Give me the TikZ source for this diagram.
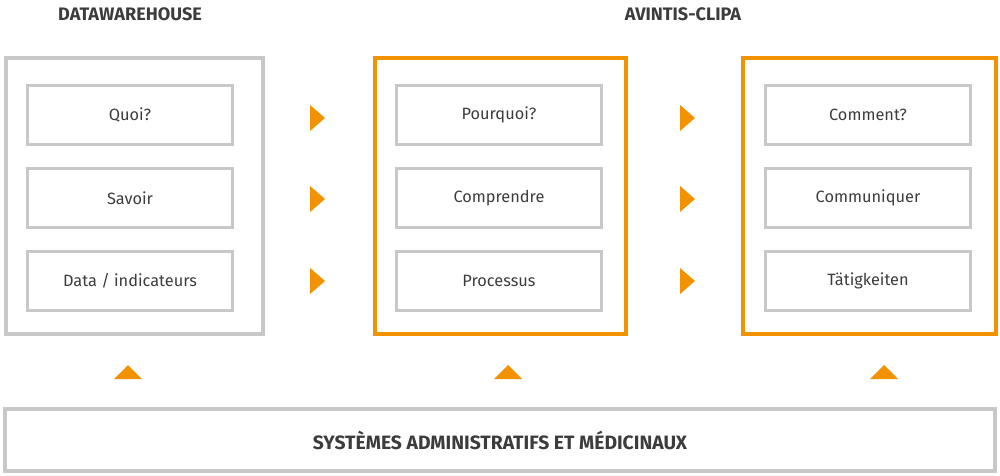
\documentclass[tikz,border=0pt]{standalone}
\usepackage{fontspec}
\setmainfont{Fira Sans}
\begin{document}
\begin{tikzpicture}[x=0.02cm,y=-0.02cm,
  gbox/.style={draw=boxgray,line width=2.3pt},
  obox/.style={draw=orng,line width=2.3pt},
  ibox/.style={draw=boxgray,line width=2pt,minimum width=4.1cm,minimum height=1.18cm,font=\fontsize{9.3}{11}\selectfont,text=txt},
  ttl/.style={font=\bfseries\fontsize{10.3}{12}\selectfont,text=txt}]
\definecolor{boxgray}{HTML}{C8C8C8}
\definecolor{orng}{HTML}{F39200}
\definecolor{txt}{HTML}{3C3C3C}
\useasboundingbox (0,0) rectangle (1000,476);
\node[ttl] (t1) at (130,14) {DATAWAREHOUSE};
\node[ttl] (t2) at (683,14) {AVINTIS-CLIPA};
\draw[gbox] (6,58) rectangle (263,334);
\draw[obox] (375,58) rectangle (626,334);
\draw[obox] (743,58) rectangle (996,334);
\foreach \cx/\a/\b/\c [count=\i] in {130/Quoi?/Savoir/{Data / indicateurs}, 499/Pourquoi?/Comprendre/Processus, 868/Comment?/Communiquer/Tätigkeiten}{
  \node[ibox] (a\i) at (\cx,115) {\a};
  \node[ibox] (b\i) at (\cx,198) {\b};
  \node[ibox] (c\i) at (\cx,281) {\c};
}
\foreach \x in {310,680}{
  \foreach \y in {118,199,281}{
    \fill[orng] (\x,\y-13) -- (\x+15,\y) -- (\x,\y+13) -- cycle;
  }
}
\foreach \x in {128,508,884}{
  \fill[orng] (\x-14,379) -- (\x,365) -- (\x+14,379) -- cycle;
}
\node[draw=boxgray,line width=2.3pt,minimum width=19.8cm,minimum height=1.24cm,font=\bfseries\fontsize{11}{13}\selectfont,text=txt] (sys) at (500,440) {SYSTÈMES ADMINISTRATIFS ET MÉDICINAUX};
\end{tikzpicture}
\end{document}
